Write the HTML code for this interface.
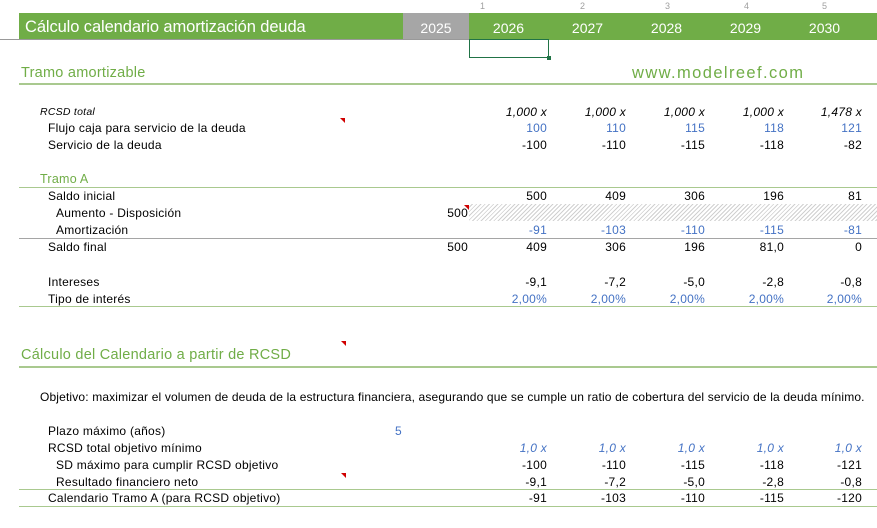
<!DOCTYPE html>
<html><head><meta charset="utf-8"><style>
body{margin:0;width:877px;height:527px;background:#fff;position:relative;overflow:hidden;font-family:"Liberation Sans",sans-serif;font-size:12px;color:#000}
div{position:absolute;white-space:nowrap;line-height:14px}
#w{left:0;top:1px;width:877px;height:527px}
#w div{letter-spacing:0.25px}
.r{text-align:right;width:70px}
.b{color:#4472c4}
.i{font-style:italic}
.g{color:#70ad47}
.hl{height:1px;background:#a9c98f;left:19px;width:858px}
.gl{height:1px;background:#a5a5a5;left:19px;width:858px}
.n{color:#a0a0a0;font-size:9px;line-height:10px}
.tri{width:0;height:0;border-top:5px solid #d00000;border-left:5px solid transparent}
</style></head><body>
<div class="n" style="left:480px;top:1px">1</div>
<div class="n" style="left:580px;top:1px">2</div>
<div class="n" style="left:665px;top:1px">3</div>
<div class="n" style="left:744px;top:1px">4</div>
<div class="n" style="left:822px;top:1px">5</div>
<div style="left:19px;top:13px;width:858px;height:27px;background:#70ad47"></div>
<div style="left:403px;top:13px;width:66px;height:27px;background:#a6a6a6"></div>
<div style="left:0;top:39px;width:470px;height:1px;background:#999"></div>
<div style="left:25px;top:17px;color:#fff;font-size:16.5px;line-height:20px;letter-spacing:-0.1px">Cálculo calendario amortización deuda</div>
<div style="left:403px;top:18px;width:66px;text-align:center;color:#fff;font-size:14px;line-height:20px">2025</div>
<div style="left:469px;top:18px;width:79px;text-align:center;color:#fff;font-size:14px;line-height:20px">2026</div>
<div style="left:548px;top:18px;width:79px;text-align:center;color:#fff;font-size:14px;line-height:20px">2027</div>
<div style="left:627px;top:18px;width:79px;text-align:center;color:#fff;font-size:14px;line-height:20px">2028</div>
<div style="left:706px;top:18px;width:79px;text-align:center;color:#fff;font-size:14px;line-height:20px">2029</div>
<div style="left:785px;top:18px;width:79px;text-align:center;color:#fff;font-size:14px;line-height:20px">2030</div>
<div style="left:469px;top:39px;width:80px;height:19px;border:1.5px solid #217346;box-sizing:border-box"></div>
<div style="left:547px;top:56px;width:4px;height:4px;background:#217346"></div>

<div id="w">
<div class="g" style="left:21px;top:63px;font-size:14.5px;line-height:18px">Tramo amortizable</div>
<div class="g" style="left:632px;top:62px;font-size:16.5px;line-height:20px;letter-spacing:1.4px">www.modelreef.com</div>
<div class="hl" style="top:82px;height:2px"></div>

<div class="i" style="left:40px;top:104px;font-size:10.5px">RCSD total</div>
<div style="left:48px;top:120px">Flujo caja para servicio de la deuda</div>
<div style="left:48px;top:137px">Servicio de la deuda</div>
<div class="tri" style="left:340px;top:117px"></div>

<div class="g" style="left:40px;top:171px;font-size:12.5px">Tramo A</div>
<div class="hl" style="top:186px"></div>
<div style="left:48px;top:188px">Saldo inicial</div>
<div style="left:56px;top:205px">Aumento - Disposición</div>
<div style="left:56px;top:222px">Amortización</div>
<div class="gl" style="top:237px"></div>
<div style="left:48px;top:239px">Saldo final</div>
<div style="left:48px;top:274px">Intereses</div>
<div style="left:48px;top:291px">Tipo de interés</div>
<div class="hl" style="top:305px"></div>
<div style="left:469px;top:203px;width:408px;height:17px;background:repeating-linear-gradient(135deg,#fff 0 2px,#d0d0d0 2px 3px)"></div>
<div class="tri" style="left:464px;top:204px"></div>

<div class="g" style="left:21px;top:345px;font-size:14.5px;line-height:18px">Cálculo del Calendario a partir de RCSD</div>
<div class="tri" style="left:341px;top:340px"></div>
<div class="hl" style="top:365px;height:2px"></div>
<div style="left:40px;top:389px;letter-spacing:0.15px">Objetivo: maximizar el volumen de deuda de la estructura financiera, asegurando que se cumple un ratio de cobertura del servicio de la deuda mínimo.</div>
<div style="left:48px;top:423px">Plazo máximo (años)</div>
<div class="b" style="left:395px;top:423px">5</div>
<div style="left:48px;top:440px">RCSD total objetivo mínimo</div>
<div style="left:56px;top:457px">SD máximo para cumplir RCSD objetivo</div>
<div style="left:56px;top:474px">Resultado financiero neto</div>
<div class="tri" style="left:341px;top:472px"></div>
<div class="hl" style="top:488px"></div>
<div style="left:48px;top:490px">Calendario Tramo A (para RCSD objetivo)</div>
<div class="hl" style="top:505px"></div>

<div class="r" style="left:398px;top:205px">500</div>
<div class="r" style="left:398px;top:239px">500</div>

<div class="r i" style="left:477px;top:104px">1,000 x</div><div class="r i" style="left:556px;top:104px">1,000 x</div><div class="r i" style="left:635px;top:104px">1,000 x</div><div class="r i" style="left:714px;top:104px">1,000 x</div><div class="r i" style="left:792px;top:104px">1,478 x</div>
<div class="r b" style="left:477px;top:120px">100</div><div class="r b" style="left:556px;top:120px">110</div><div class="r b" style="left:635px;top:120px">115</div><div class="r b" style="left:714px;top:120px">118</div><div class="r b" style="left:792px;top:120px">121</div>
<div class="r" style="left:477px;top:137px">-100</div><div class="r" style="left:556px;top:137px">-110</div><div class="r" style="left:635px;top:137px">-115</div><div class="r" style="left:714px;top:137px">-118</div><div class="r" style="left:792px;top:137px">-82</div>
<div class="r" style="left:477px;top:188px">500</div><div class="r" style="left:556px;top:188px">409</div><div class="r" style="left:635px;top:188px">306</div><div class="r" style="left:714px;top:188px">196</div><div class="r" style="left:792px;top:188px">81</div>
<div class="r b" style="left:477px;top:222px">-91</div><div class="r b" style="left:556px;top:222px">-103</div><div class="r b" style="left:635px;top:222px">-110</div><div class="r b" style="left:714px;top:222px">-115</div><div class="r b" style="left:792px;top:222px">-81</div>
<div class="r" style="left:477px;top:239px">409</div><div class="r" style="left:556px;top:239px">306</div><div class="r" style="left:635px;top:239px">196</div><div class="r" style="left:714px;top:239px">81,0</div><div class="r" style="left:792px;top:239px">0</div>
<div class="r" style="left:477px;top:274px">-9,1</div><div class="r" style="left:556px;top:274px">-7,2</div><div class="r" style="left:635px;top:274px">-5,0</div><div class="r" style="left:714px;top:274px">-2,8</div><div class="r" style="left:792px;top:274px">-0,8</div>
<div class="r b" style="left:477px;top:291px">2,00%</div><div class="r b" style="left:556px;top:291px">2,00%</div><div class="r b" style="left:635px;top:291px">2,00%</div><div class="r b" style="left:714px;top:291px">2,00%</div><div class="r b" style="left:792px;top:291px">2,00%</div>
<div class="r b i" style="left:477px;top:440px">1,0 x</div><div class="r b i" style="left:556px;top:440px">1,0 x</div><div class="r b i" style="left:635px;top:440px">1,0 x</div><div class="r b i" style="left:714px;top:440px">1,0 x</div><div class="r b i" style="left:792px;top:440px">1,0 x</div>
<div class="r" style="left:477px;top:457px">-100</div><div class="r" style="left:556px;top:457px">-110</div><div class="r" style="left:635px;top:457px">-115</div><div class="r" style="left:714px;top:457px">-118</div><div class="r" style="left:792px;top:457px">-121</div>
<div class="r" style="left:477px;top:474px">-9,1</div><div class="r" style="left:556px;top:474px">-7,2</div><div class="r" style="left:635px;top:474px">-5,0</div><div class="r" style="left:714px;top:474px">-2,8</div><div class="r" style="left:792px;top:474px">-0,8</div>
<div class="r" style="left:477px;top:490px">-91</div><div class="r" style="left:556px;top:490px">-103</div><div class="r" style="left:635px;top:490px">-110</div><div class="r" style="left:714px;top:490px">-115</div><div class="r" style="left:792px;top:490px">-120</div>
</div>
</body></html>
